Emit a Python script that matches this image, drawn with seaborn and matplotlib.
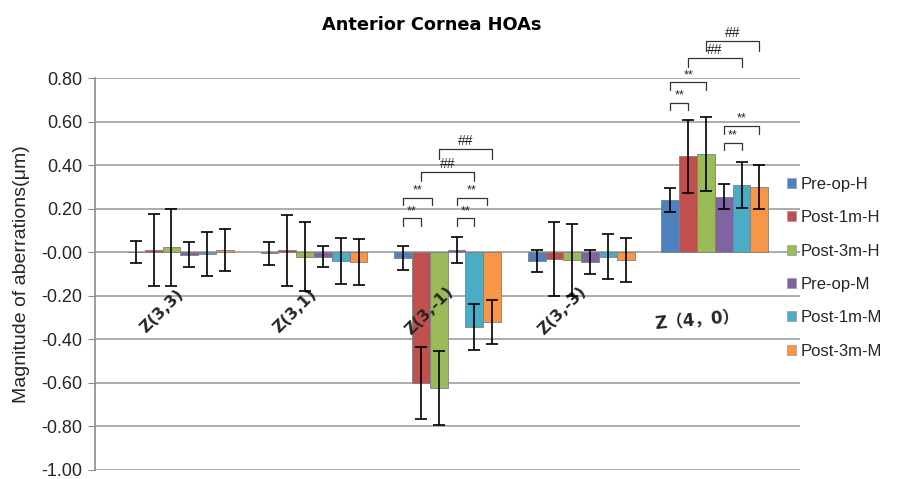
import pandas as pd
import numpy as np
import matplotlib.pyplot as plt
import seaborn as sns

sns.set_style('white')
plt.rcParams['font.family'] = ['Liberation Sans', 'DejaVu Sans', 'Noto Sans CJK SC']

groups = ['Z(3,3)', 'Z(3,1)', 'Z(3,-1)', 'Z(3,-3)', 'Z（4，0）']
series = ['Pre-op-H', 'Post-1m-H', 'Post-3m-H', 'Pre-op-M', 'Post-1m-M', 'Post-3m-M']
colors = ['#4F81BD', '#C0504D', '#9BBB59', '#8064A2', '#4BACC6', '#F79646']

pre_op_h = [0.00, -0.005, -0.025, -0.04, 0.24]
post_1m_h = [0.01, 0.008, -0.60, -0.03, 0.44]
post_3m_h = [0.022, -0.02, -0.625, -0.035, 0.45]
pre_op_m = [-0.012, -0.02, 0.01, -0.045, 0.255]
post_1m_m = [-0.007, -0.04, -0.345, -0.02, 0.308]
post_3m_m = [0.01, -0.045, -0.32, -0.035, 0.30]

pre_op_h_sd = [0.05, 0.052, 0.055, 0.05, 0.055]
post_1m_h_sd = [0.165, 0.165, 0.165, 0.17, 0.167]
post_3m_h_sd = [0.178, 0.16, 0.17, 0.165, 0.17]
pre_op_m_sd = [0.058, 0.05, 0.058, 0.055, 0.058]
post_1m_m_sd = [0.10, 0.105, 0.105, 0.105, 0.105]
post_3m_m_sd = [0.098, 0.105, 0.10, 0.10, 0.10]

means = [pre_op_h, post_1m_h, post_3m_h, pre_op_m, post_1m_m, post_3m_m]
sds = [pre_op_h_sd, post_1m_h_sd, post_3m_h_sd, pre_op_m_sd, post_1m_m_sd, post_3m_m_sd]

# significance marks: (group, bar from, bar to, height, label)
sig_marks = [
    (2, 0, 1, 0.155, '**'), (2, 0, 1.6, 0.25, '**'),
    (2, 1, 4, 0.37, '##'), (2, 2, 5, 0.475, '##'),
    (2, 3, 4, 0.155, '**'), (2, 3, 4.7, 0.25, '**'),
    (4, 0, 1, 0.687, '**'), (4, 0, 2, 0.78, '**'),
    (4, 1, 4, 0.894, '##'), (4, 2, 5, 0.97, '##'),
    (4, 3, 4, 0.504, '**'), (4, 3, 5, 0.58, '**'),
]

rows = []
for s, m, e in zip(series, means, sds):
    for g, v, sd in zip(groups, m, e):
        rows.append({'group': g, 'series': s, 'value': v, 'sd': sd})
df = pd.DataFrame(rows)

fig = plt.figure(figsize=(9.21, 4.79), dpi=100)
ax = fig.add_axes([0.103, 0.019, 0.766, 0.818])

sns.barplot(data=df, x='group', y='value', hue='series', palette=colors,
            errorbar=None, legend=False, ax=ax, saturation=1,
            edgecolor='#7f7f7f', linewidth=0.6, zorder=3)

# error bars from the bar positions
bar_x = []
for cont, e in zip(ax.containers, sds):
    xs = [b.get_x() + b.get_width() / 2 for b in cont]
    bar_x.append(xs)
    ax.errorbar(xs, [b.get_y() + b.get_height() for b in cont], yerr=e, fmt='none',
                ecolor='black', elinewidth=1.2, capsize=4, capthick=1.2, zorder=4)

ticks = np.arange(-1.0, 0.81, 0.2)
ax.set_ylim(-1.0, 0.8)
ax.set_yticks(ticks)
ax.set_yticklabels(['%.2f' % t for t in ticks], fontsize=13, color='#262626')
ax.set_xticks([])
ax.set_xlabel('')
ax.set_ylabel('Magnitude of aberrations(μm)', fontsize=14, color='#262626', labelpad=8)
ax.grid(axis='y', color='#a6a6a6', linewidth=1.3, zorder=0)
ax.set_axisbelow(True)
for sp in ['top', 'right', 'bottom']:
    ax.spines[sp].set_visible(False)
ax.spines['left'].set_color('#8c8c8c')
ax.spines['left'].set_linewidth(1.2)
ax.tick_params(axis='y', direction='out', length=5, color='#8c8c8c', left=True, pad=4)

# category labels inside the plot
for i, g in enumerate(groups):
    if i == 4:
        ax.text(i - 0.13, -0.31, g, fontsize=12, fontweight='bold',
                family=['DejaVu Sans', 'Noto Sans CJK SC'],
                ha='center', va='center', rotation=5)
    else:
        ax.text(i - 0.14, -0.27, g, fontsize=11.5, fontweight='bold',
                family=['DejaVu Sans'],
                ha='center', va='center', rotation=45)

# significance brackets
for g, a, b, h, lab in sig_marks:
    def xpos(k):
        k0 = int(np.floor(k))
        frac = k - k0
        x0 = bar_x[k0][g]
        if frac == 0:
            return x0
        return x0 + frac * (bar_x[k0 + 1][g] - x0)
    x1, x2 = xpos(a), xpos(b)
    leg = 0.035 if lab == '**' else 0.045
    ax.plot([x1, x1, x2, x2], [h - leg, h, h, h - leg], color='#333333',
            linewidth=0.9, clip_on=False, zorder=5)
    ax.text((x1 + x2) / 2, h + 0.005, lab, ha='center', va='bottom',
            fontsize=9 if lab == '**' else 10, clip_on=False)

handles = [plt.Rectangle((0, 0), 1, 1, facecolor=c, edgecolor='#9a9a9a', linewidth=0.5)
           for c in colors]
fig.legend(handles, series, loc='upper left', bbox_to_anchor=(0.838, 0.662),
           frameon=False, fontsize=12, handlelength=0.55, handleheight=0.55,
           handletextpad=0.25, labelspacing=1.1, labelcolor='#262626')

fig.text(0.469, 0.948, 'Anterior Cornea HOAs', ha='center', va='center',
         fontsize=12.8, fontweight='heavy', color='black', family=['DejaVu Sans'])

plt.savefig('out.png', dpi=100)
